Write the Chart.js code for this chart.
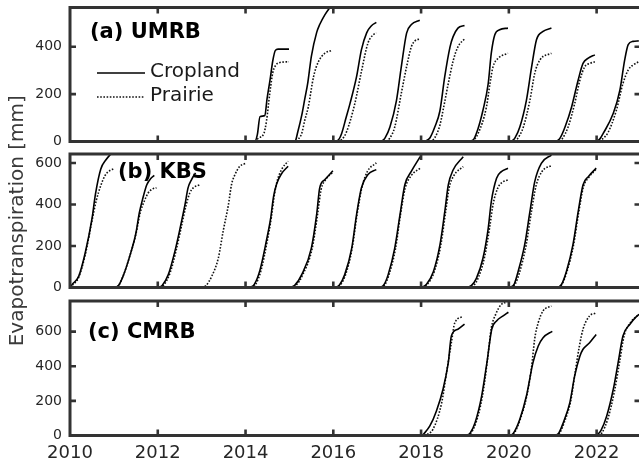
<!DOCTYPE html>
<html>
<head>
<meta charset="utf-8">
<script src="https://cdn.jsdelivr.net/npm/chart.js@4.4.0/dist/chart.umd.min.js"></script>
<style>
  html, body { margin: 0; padding: 0; background: #fff; overflow: hidden; width: 639px; height: 467px; }
  canvas { position: absolute; left: 0; top: 0; }
</style>
</head>
<body>
<canvas id="umrb" width="646" height="467"></canvas>
<canvas id="kbs" width="646" height="467"></canvas>
<canvas id="cmrb" width="646" height="467"></canvas>
<script>
// Cumulative evapotranspiration per growing year, points are [decimal year, mm]

const yearTicks = [2010, 2012, 2014, 2016, 2018, 2020, 2022];
const yearLabels = ['2010', '2012', '2014', '2016', '2018', '2020', '2022'];
const umrbTicks = [0, 200, 400];
const kbsTicks = [0, 200, 400, 600];
const cmrbTicks = [0, 200, 400, 600];

// (a) UMRB
const umrbCropland = [
  [[2014.03,0],[2014.21,0],[2014.27,30],[2014.33,105],[2014.44,110],[2014.49,180],[2014.56,262],[2014.62,340],[2014.68,385],[2014.74,390],[2014.99,390]],
  [[2015.01,0],[2015.13,2],[2015.19,40],[2015.28,110],[2015.35,180],[2015.42,250],[2015.50,360],[2015.62,460],[2015.69,494],[2015.81,536],[2015.96,576]],
  [[2016.04,0],[2016.13,10],[2016.19,34],[2016.29,100],[2016.38,160],[2016.53,274],[2016.64,387],[2016.76,459],[2016.87,489],[2016.98,503]],
  [[2017.10,0],[2017.18,15],[2017.29,61],[2017.44,174],[2017.55,316],[2017.67,458],[2017.78,494],[2017.97,512]],
  [[2018.09,0],[2018.20,15],[2018.31,60],[2018.43,130],[2018.54,275],[2018.66,400],[2018.73,443],[2018.84,479],[2018.99,490]],
  [[2019.04,0],[2019.18,5],[2019.29,50],[2019.41,132],[2019.53,245],[2019.60,373],[2019.68,451],[2019.79,472],[2019.98,479]],
  [[2020.06,0],[2020.14,15],[2020.25,61],[2020.40,174],[2020.52,316],[2020.63,430],[2020.78,465],[2020.97,479]],
  [[2021.09,0],[2021.17,15],[2021.28,61],[2021.43,146],[2021.58,260],[2021.69,330],[2021.81,352],[2021.96,366]],
  [[2022.00,0],[2022.07,10],[2022.15,34],[2022.38,119],[2022.53,217],[2022.64,345],[2022.72,409],[2022.83,423],[2022.96,425]]
];
const umrbPrairie = [
  [[2014.21,0],[2014.30,15],[2014.42,35],[2014.48,90],[2014.55,200],[2014.62,290],[2014.68,320],[2014.75,332],[2014.99,337]],
  [[2015.01,0],[2015.13,0],[2015.20,10],[2015.28,34],[2015.35,90],[2015.43,146],[2015.55,274],[2015.66,337],[2015.81,373],[2015.97,385]],
  [[2016.10,0],[2016.20,10],[2016.30,40],[2016.49,160],[2016.64,295],[2016.79,416],[2016.91,451],[2016.98,458]],
  [[2017.21,0],[2017.29,15],[2017.40,61],[2017.55,204],[2017.67,316],[2017.78,401],[2017.86,425],[2017.97,433]],
  [[2018.20,0],[2018.31,15],[2018.43,70],[2018.52,150],[2018.62,245],[2018.73,340],[2018.84,400],[2018.99,433]],
  [[2019.18,0],[2019.30,34],[2019.49,146],[2019.57,245],[2019.64,316],[2019.76,352],[2019.98,373]],
  [[2020.14,0],[2020.21,15],[2020.33,61],[2020.48,174],[2020.59,288],[2020.71,345],[2020.97,373]],
  [[2021.16,0],[2021.23,15],[2021.35,61],[2021.50,160],[2021.62,260],[2021.73,316],[2021.85,330],[2021.96,337]],
  [[2022.07,0],[2022.26,38],[2022.45,132],[2022.60,245],[2022.72,302],[2022.83,323],[2022.96,337]]
];

// (b) KBS
const kbsCropland = [
  [[2010.00,0],[2010.05,15],[2010.20,55],[2010.35,170],[2010.50,330],[2010.58,450],[2010.70,570],[2010.82,615],[2010.95,648]],
  [[2011.00,0],[2011.10,8],[2011.21,55],[2011.36,150],[2011.50,260],[2011.58,360],[2011.66,430],[2011.75,495],[2011.84,525],[2011.92,540]],
  [[2012.01,0],[2012.10,10],[2012.24,62],[2012.39,174],[2012.51,287],[2012.62,399],[2012.69,480],[2012.77,520],[2012.86,552]],
  [[2014.10,0],[2014.20,15],[2014.33,85],[2014.48,230],[2014.57,330],[2014.64,440],[2014.71,500],[2014.82,548],[2014.97,584]],
  [[2015.01,0],[2015.12,10],[2015.28,62],[2015.50,190],[2015.62,351],[2015.69,480],[2015.81,520],[2015.99,562]],
  [[2016.04,0],[2016.14,12],[2016.26,62],[2016.42,190],[2016.53,351],[2016.64,480],[2016.79,544],[2016.98,568]],
  [[2017.06,0],[2017.15,12],[2017.25,62],[2017.40,190],[2017.52,351],[2017.63,495],[2017.78,560],[2017.98,630]],
  [[2018.01,0],[2018.12,15],[2018.28,76],[2018.43,205],[2018.54,365],[2018.62,494],[2018.73,566],[2018.96,630]],
  [[2019.04,0],[2019.15,10],[2019.26,44],[2019.41,141],[2019.53,285],[2019.60,413],[2019.72,526],[2019.83,558],[2019.98,574]],
  [[2020.02,0],[2020.12,15],[2020.21,76],[2020.36,205],[2020.48,365],[2020.59,510],[2020.74,598],[2020.97,638]],
  [[2021.12,0],[2021.20,15],[2021.31,76],[2021.46,205],[2021.58,365],[2021.69,494],[2021.81,534],[2021.99,575]]
];
const kbsPrairie = [
  [[2010.00,0],[2010.05,10],[2010.20,50],[2010.35,160],[2010.50,320],[2010.60,420],[2010.70,490],[2010.80,540],[2010.90,562],[2010.99,571]],
  [[2011.00,0],[2011.10,8],[2011.21,55],[2011.36,150],[2011.50,255],[2011.60,360],[2011.70,420],[2011.78,455],[2011.86,472],[2011.97,481]],
  [[2012.05,0],[2012.15,15],[2012.28,70],[2012.42,180],[2012.54,295],[2012.65,400],[2012.73,455],[2012.82,482],[2012.95,494]],
  [[2013.00,0],[2013.10,10],[2013.23,54],[2013.38,142],[2013.49,271],[2013.61,399],[2013.68,495],[2013.76,544],[2013.87,584],[2013.99,597]],
  [[2014.12,0],[2014.22,12],[2014.35,80],[2014.50,230],[2014.59,340],[2014.66,450],[2014.73,520],[2014.84,575],[2014.97,608]],
  [[2015.03,0],[2015.15,10],[2015.30,60],[2015.52,190],[2015.64,350],[2015.72,470],[2015.83,520],[2015.99,555]],
  [[2016.05,0],[2016.16,12],[2016.28,62],[2016.43,190],[2016.54,350],[2016.65,480],[2016.78,560],[2016.98,600]],
  [[2017.08,0],[2017.17,12],[2017.27,62],[2017.42,190],[2017.53,350],[2017.64,480],[2017.78,540],[2017.98,575]],
  [[2018.03,0],[2018.14,15],[2018.30,76],[2018.45,205],[2018.56,365],[2018.64,480],[2018.75,540],[2018.96,582]],
  [[2019.08,0],[2019.20,10],[2019.31,50],[2019.45,150],[2019.57,300],[2019.64,400],[2019.75,480],[2019.86,508],[2019.98,518]],
  [[2020.04,0],[2020.14,15],[2020.24,70],[2020.39,200],[2020.51,360],[2020.62,490],[2020.76,560],[2020.97,587]],
  [[2021.13,0],[2021.21,15],[2021.32,74],[2021.47,200],[2021.59,360],[2021.70,485],[2021.82,530],[2021.99,570]]
];

// (c) CMRB
const cmrbCropland = [
  [[2018.03,0],[2018.20,55],[2018.35,142],[2018.50,267],[2018.62,421],[2018.69,575],[2018.84,614],[2018.99,643]],
  [[2019.04,0],[2019.12,15],[2019.23,74],[2019.38,228],[2019.50,421],[2019.61,614],[2019.72,662],[2019.87,691],[2019.99,712]],
  [[2020.02,0],[2020.10,12],[2020.25,94],[2020.40,228],[2020.55,421],[2020.67,517],[2020.78,565],[2020.99,602]],
  [[2021.05,0],[2021.14,15],[2021.24,74],[2021.39,190],[2021.50,344],[2021.62,459],[2021.69,498],[2021.84,536],[2021.99,583]],
  [[2022.00,0],[2022.10,30],[2022.23,113],[2022.38,267],[2022.49,421],[2022.60,575],[2022.76,643],[2022.90,685],[2022.97,700]]
];
const cmrbPrairie = [
  [[2018.07,0],[2018.27,36],[2018.47,190],[2018.58,363],[2018.69,536],[2018.77,652],[2018.96,687]],
  [[2019.06,0],[2019.14,15],[2019.25,74],[2019.40,230],[2019.51,430],[2019.60,620],[2019.70,700],[2019.82,755],[2019.92,768]],
  [[2020.03,0],[2020.12,12],[2020.26,94],[2020.41,230],[2020.52,400],[2020.59,560],[2020.67,652],[2020.78,720],[2020.97,748]],
  [[2021.07,0],[2021.16,15],[2021.26,74],[2021.41,200],[2021.52,380],[2021.61,520],[2021.69,614],[2021.84,691],[2021.97,706]],
  [[2022.04,0],[2022.12,15],[2022.26,100],[2022.41,260],[2022.52,420],[2022.63,580],[2022.78,655],[2022.96,700]]
];

// Join the yearly curves into one series, with a gap between years
function toSeries(curves) {
  const pts = [];
  curves.forEach((curve, i) => {
    if (i > 0) pts.push({ x: curve[0][0] - 0.001, y: null });
    curve.forEach(([x, y]) => pts.push({ x, y }));
  });
  return pts;
}

Chart.defaults.font.family = '"DejaVu Sans", Verdana, sans-serif';
Chart.defaults.color = '#262626';

const AXIS_COLOR = '#333';

// Box frame with inward tick marks on all four sides
const framePlugin = {
  id: 'frame',
  afterDatasetsDraw(chart, args, opts) {
    const { ctx, chartArea: a, scales: { x, y } } = chart;
    ctx.save();
    ctx.strokeStyle = AXIS_COLOR;
    ctx.lineWidth = 3;
    ctx.strokeRect(a.left, a.top, a.right - a.left, a.bottom - a.top);
    ctx.lineWidth = 2.6;
    ctx.beginPath();
    const len = 6;
    yearTicks.forEach(v => {
      const px = x.getPixelForValue(v);
      if (px <= a.left + 1 || px >= a.right - 1) return;
      ctx.moveTo(px, a.bottom); ctx.lineTo(px, a.bottom - len);
      ctx.moveTo(px, a.top); ctx.lineTo(px, a.top + len);
    });
    opts.yTicks.forEach(v => {
      const py = y.getPixelForValue(v);
      if (py >= a.bottom - 1 || py <= a.top + 1) return;
      ctx.moveTo(a.left, py); ctx.lineTo(a.left + len, py);
      ctx.moveTo(a.right, py); ctx.lineTo(a.right - len, py);
    });
    ctx.stroke();
    ctx.restore();
  }
};

// Panel title and (optionally) the line-style key
const annotatePlugin = {
  id: 'annotate',
  afterDatasetsDraw(chart, args, opts) {
    const { ctx } = chart;
    ctx.save();
    ctx.fillStyle = '#000';
    ctx.font = 'bold 21px "DejaVu Sans"';
    ctx.textBaseline = 'middle';
    ctx.textAlign = 'left';
    ctx.fillText(opts.title, opts.titleX, opts.titleY);
    if (opts.key) {
      const k = opts.key;
      chart.data.datasets.forEach((ds, i) => {
        const ly = k.y + i * k.gap;
        ctx.strokeStyle = ds.borderColor;
        ctx.lineWidth = ds.borderWidth;
        ctx.setLineDash(ds.borderDash || []);
        ctx.beginPath();
        ctx.moveTo(k.x, ly); ctx.lineTo(k.x + k.len, ly);
        ctx.stroke();
        ctx.setLineDash([]);
        ctx.fillStyle = '#1a1a1a';
        ctx.font = '20px "DejaVu Sans"';
        ctx.fillText(ds.label, k.x + k.len + 5, ly - 1);
      });
    }
    ctx.restore();
  }
};

function makeDatasets(crop, prairie) {
  return [
    { label: 'Cropland', data: toSeries(crop), borderColor: '#000', borderWidth: 1.6,
      pointRadius: 0, cubicInterpolationMode: 'monotone', spanGaps: false },
    { label: 'Prairie', data: toSeries(prairie), borderColor: '#111', borderWidth: 1.6,
      borderDash: [1.6, 1.6], pointRadius: 0, cubicInterpolationMode: 'monotone', spanGaps: false }
  ];
}

function makePanel(id, cfg) {
  const yScale = {
    min: 0, max: cfg.yMax,
    afterBuildTicks: s => { s.ticks = cfg.yTicks.map(v => ({ value: v })); },
    afterFit: s => { s.width = 70; s.paddingTop = 0; s.paddingBottom = 0; },
    grid: { display: false, drawTicks: false },
    border: { display: false },
    ticks: { font: { size: 14 }, color: '#262626', padding: 8 },
    title: cfg.yTitle ? {
      display: true, text: cfg.yTitle, color: '#3a3a3a',
      font: { size: 20 }, padding: { top: 6, bottom: 0 }
    } : { display: false }
  };
  const xScale = {
    type: 'linear', min: 2010, max: 2023, display: cfg.showX,
    afterBuildTicks: s => { s.ticks = yearTicks.map(v => ({ value: v })); },
    afterFit: s => {
      s.height = cfg.showX ? 31.5 : 0;
      s.paddingLeft = 0; s.paddingRight = 0;
    },
    grid: { display: false, drawTicks: false },
    border: { display: false },
    ticks: { font: { size: 18 }, color: '#262626', padding: 7.5, maxRotation: 0, autoSkip: false,
             callback: (v, i) => yearLabels[i] }
  };
  return new Chart(document.getElementById(id), {
    type: 'line',
    data: { datasets: makeDatasets(cfg.crop, cfg.prairie) },
    options: {
      responsive: false,
      animation: false,
      events: [],
      layout: { padding: { left: 0, right: 5.5, top: cfg.top, bottom: cfg.bottom } },
      scales: { x: xScale, y: yScale },
      plugins: {
        legend: { display: false },
        tooltip: { enabled: false },
        frame: { yTicks: cfg.yTicks },
        annotate: cfg.annotate
      }
    },
    plugins: [framePlugin, annotatePlugin]
  });
}

makePanel('umrb', {
  crop: umrbCropland, prairie: umrbPrairie, yMax: 566, yTicks: umrbTicks,
  top: 7.5, bottom: 325.5, showX: false,
  annotate: { title: '(a) UMRB', titleX: 90, titleY: 33,
              key: { x: 97, y: 73, gap: 24, len: 48 } }
});
makePanel('kbs', {
  crop: kbsCropland, prairie: kbsPrairie, yMax: 643, yTicks: kbsTicks,
  top: 154, bottom: 179.5, showX: false, yTitle: 'Evapotranspiration [mm]',
  annotate: { title: '(b) KBS', titleX: 118, titleY: 173 }
});
makePanel('cmrb', {
  crop: cmrbCropland, prairie: cmrbPrairie, yMax: 777, yTicks: cmrbTicks,
  top: 301, bottom: 0, showX: true,
  annotate: { title: '(c) CMRB', titleX: 88, titleY: 333 }
});
</script>
</body>
</html>
